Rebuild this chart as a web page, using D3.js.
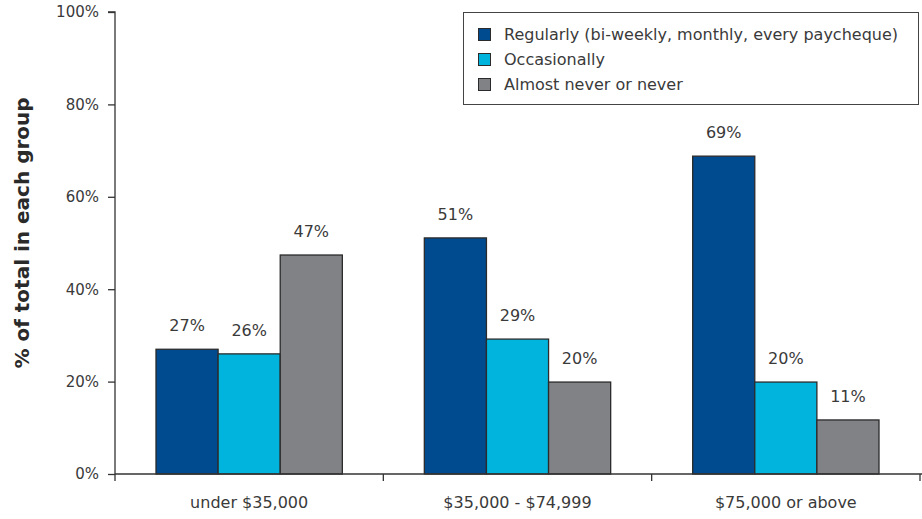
<!DOCTYPE html>
<html><head><meta charset="utf-8">
<script src="https://cdn.jsdelivr.net/npm/d3@7"></script>
<style>body{margin:0;background:#fff}text{font-family:"DejaVu Sans",sans-serif;fill:#3a3a3a}</style>
</head><body><svg id="c" width="922" height="519"></svg>
<script>
const categories = ["under $35,000", "$35,000 - $74,999", "$75,000 or above"];
const seriesNames = ["Regularly (bi-weekly, monthly, every paycheque)", "Occasionally", "Almost never or never"];
const regularly = [27, 51.1, 68.8];
const occasionally = [26, 29.2, 19.9];
const almostNever = [47.4, 19.9, 11.7];
const regularlyLabels = ["27%", "51%", "69%"];
const occasionallyLabels = ["26%", "29%", "20%"];
const almostNeverLabels = ["47%", "20%", "11%"];
const yTicks = [0, 20, 40, 60, 80, 100];
const colors = ["#004a8f", "#00b4de", "#808285"];

const series = [regularly, occasionally, almostNever];
const labels = [regularlyLabels, occasionallyLabels, almostNeverLabels];
const FONT = "'DejaVu Sans',sans-serif";

const svg = d3.select("#c");
const x = d3.scaleBand().domain(categories).range([115, 920]).paddingInner(0).paddingOuter(0);
const xs = d3.scaleBand().domain([0,1,2]).range([0, x.bandwidth()]).paddingInner(0).paddingOuter(0.66);
const y = d3.scaleLinear().domain([0, 100]).range([474, 12]);

// y axis
const ya = svg.append("g").attr("transform", "translate(115,0)")
  .call(d3.axisLeft(y).tickValues(yTicks).tickFormat(d => d + "%").tickSize(7).tickPadding(9));
ya.attr("font-size", null).attr("font-family", null);
ya.selectAll("path,line").attr("stroke", "#333").attr("stroke-width", 1.3);
ya.selectAll("text").style("font-size", "15px").style("fill", "#3a3a3a").style("font-family", FONT);
ya.select(".domain").attr("d", "M-7,12H0V474");

svg.append("text").attr("transform", "translate(29,233) rotate(-90)")
  .attr("text-anchor", "middle").style("font-size", "20px").attr("font-weight", "bold").style("fill", "#2a2a2a")
  .text("% of total in each group");

// bars
categories.forEach((c, i) => {
  const g = svg.append("g").attr("transform", `translate(${x(c)},0)`);
  series.forEach((s, j) => {
    g.append("rect").attr("x", xs(j)).attr("width", xs.bandwidth())
      .attr("y", y(s[i])).attr("height", y(0) - y(s[i]))
      .attr("fill", colors[j]).attr("stroke", "#2b2b2b").attr("stroke-width", 1.3);
    g.append("text").attr("x", xs(j) + xs.bandwidth() / 2).attr("y", y(s[i]) - 18)
      .attr("text-anchor", "middle").style("font-size", "16px").text(labels[j][i]);
  });
});

// x axis
const xa = svg.append("g").attr("transform", "translate(0,474)");
xa.append("line").attr("x1", 115).attr("x2", 922).attr("stroke", "#333").attr("stroke-width", 1.3);
const bounds = [x(categories[0]), ...categories.map(c => x(c) + x.bandwidth())];
xa.selectAll("line.t").data(bounds).join("line").attr("class", "t")
  .attr("x1", d => d).attr("x2", d => d).attr("y1", 0).attr("y2", 7).attr("stroke", "#333").attr("stroke-width", 1.3);
xa.selectAll("text").data(categories).join("text")
  .attr("x", d => x(d) + x.bandwidth() / 2).attr("y", 34).attr("text-anchor", "middle").style("font-size", "16px").text(d => d);

// legend
const lg = svg.append("g");
lg.append("rect").attr("x", 463.5).attr("y", 12.5).attr("width", 455).attr("height", 92)
  .attr("fill", "#fff").attr("stroke", "#444").attr("stroke-width", 1);
seriesNames.forEach((n, j) => {
  lg.append("rect").attr("x", 478.5).attr("y", 28.5 + j * 25).attr("width", 12).attr("height", 12)
    .attr("fill", colors[j]).attr("stroke", "#2b2b2b").attr("stroke-width", 1);
  lg.append("text").attr("x", 504).attr("y", 40 + j * 25).style("font-size", "16px").text(n);
});
</script></body></html>
